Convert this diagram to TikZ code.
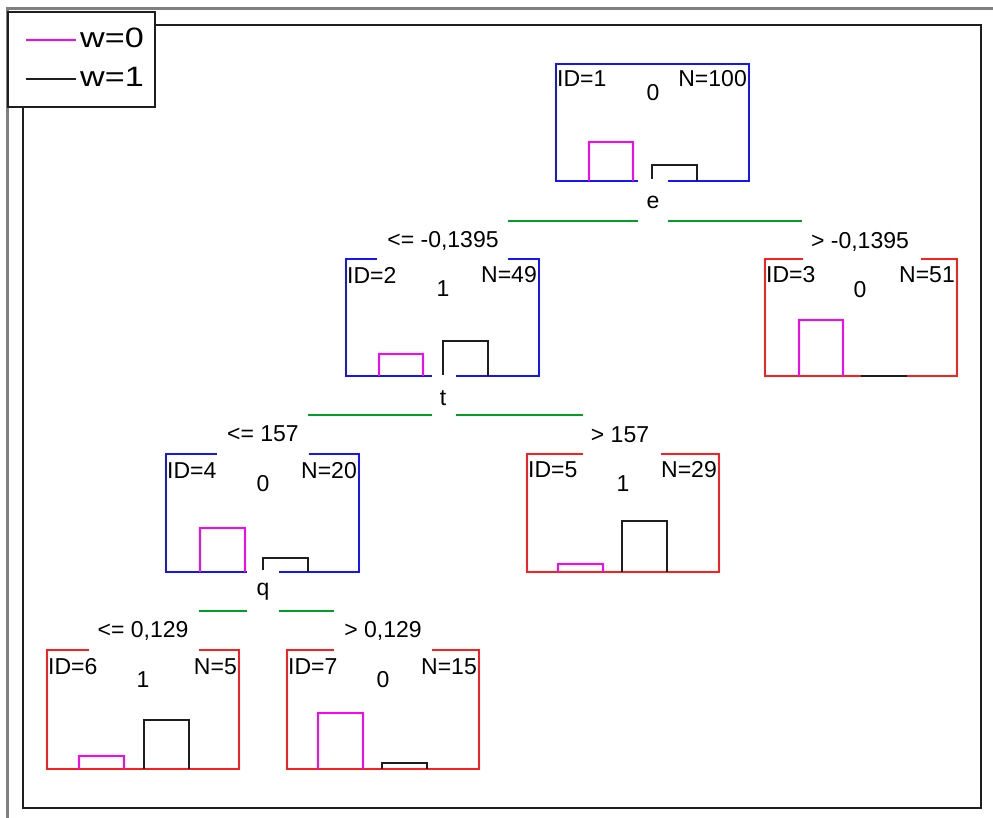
\documentclass[tikz,border=0pt]{standalone}
\usepackage{fontspec}
\usepackage{graphicx}
\setmainfont{Liberation Sans}
\definecolor{nblue}{RGB}{20,20,255}
\definecolor{nred}{RGB}{255,30,30}
\definecolor{nmag}{RGB}{255,0,255}
\definecolor{ngreen}{RGB}{0,160,40}
\definecolor{nblack}{RGB}{30,30,30}
\definecolor{ngray}{RGB}{128,128,128}
\tikzset{
  boxb/.style={draw=nblue, line width=2pt},
  boxr/.style={draw=nred, line width=2pt},
  barm/.style={draw=nmag, line width=1.6pt},
  bark/.style={draw=nblack, line width=1.6pt},
  splitline/.style={draw=ngreen, line width=2pt},
  txt/.style={font=\fontsize{23}{23}\selectfont, inner sep=0pt, text=black},
  legtxt/.style={font=\fontsize{28}{28}\selectfont, inner sep=0pt, text=black, anchor=west},
}
\begin{document}
\begin{tikzpicture}[x=1pt, y=-1pt]
\useasboundingbox (0,0) rectangle (993,818);
\fill[white] (0,0) rectangle (993,818);
% outer frames
\draw[ngray, line width=3pt] (7,818) -- (7,9) -- (993,9);
\draw[nblack, line width=2pt] (155,25) -- (981,25) -- (981,808) -- (23,808) -- (23,107);
% legend
\draw[nblack, line width=2pt] (8,12) rectangle (155,107);
\coordinate (l0a) at (26,40); \coordinate (l0b) at (76,40);
\coordinate (l1a) at (26,79); \coordinate (l1b) at (76,79);
\draw[nmag, line width=1.5pt] (l0a) -- (l0b);
\draw[nblack, line width=1.5pt] (l1a) -- (l1b);
\node[legtxt] (lw0) at (80,38) {\scalebox{1.22}[1]{w=0}};
\node[legtxt] (lw1) at (80,77) {\scalebox{1.22}[1]{w=1}};

% ---------- node 1 ----------
\draw[boxb] (638,181) -- (556,181) -- (556,64) -- (749,64) -- (749,181) -- (668,181);
\draw[barm] (589,181) -- (589,142) -- (633,142) -- (633,181);
\draw[bark] (652,179) -- (652,165) -- (697,165) -- (697,181);
\node[txt, anchor=west] (id1) at (557,79) {ID=1};
\node[txt, anchor=east] (n1) at (747,79) {N=100};
\node[txt] (c1) at (653,93) {0};
\node[txt] (s1) at (653,202) {e};
\draw[splitline] (508,221) -- (638,221);
\draw[splitline] (668,221) -- (802,221);
\node[txt] (e2) at (443,241) {<= -0,1395};
\node[txt] (e3) at (860,242) {> -0,1395};

% ---------- node 2 ----------
\draw[boxb] (377,259) -- (346,259) -- (346,376) -- (432,376);
\draw[boxb] (456,376) -- (539,376) -- (539,259) -- (508,259);
\draw[barm] (379,376) -- (379,354) -- (423,354) -- (423,376);
\draw[bark] (443,375) -- (443,341) -- (488,341) -- (488,376);
\node[txt, anchor=west] (id2) at (347,275) {ID=2};
\node[txt, anchor=east] (n2) at (537,275) {N=49};
\node[txt] (c2) at (443,289) {1};
\node[txt] (s2) at (443,398) {t};
\draw[splitline] (308,415) -- (432,415);
\draw[splitline] (456,415) -- (583,415);
\node[txt] (e4) at (263,434) {<= 157};
\node[txt] (e5) at (620,435) {> 157};

% ---------- node 3 ----------
\draw[boxr] (803,259) -- (765,259) -- (765,376) -- (957,376) -- (957,259) -- (921,259);
\draw[barm] (799,376) -- (799,320) -- (843,320) -- (843,376);
\draw[bark] (861,376) -- (907,376);
\node[txt, anchor=west] (id3) at (766,275) {ID=3};
\node[txt, anchor=east] (n3) at (955,275) {N=51};
\node[txt] (c3) at (860,290) {0};

% ---------- node 4 ----------
\draw[boxb] (217,454) -- (166,454) -- (166,572) -- (247,572);
\draw[boxb] (279,572) -- (359,572) -- (359,454) -- (309,454);
\draw[barm] (200,572) -- (200,528) -- (245,528) -- (245,572);
\draw[bark] (263,570) -- (263,558) -- (308,558) -- (308,572);
\node[txt, anchor=west] (id4) at (167,471) {ID=4};
\node[txt, anchor=east] (n4) at (357,471) {N=20};
\node[txt] (c4) at (263,484) {0};
\node[txt] (s4) at (263,592) {q};
\draw[splitline] (199,611) -- (247,611);
\draw[splitline] (279,611) -- (334,611);
\node[txt] (e6) at (143,631) {<= 0,129};
\node[txt] (e7) at (383,631) {> 0,129};

% ---------- node 5 ----------
\draw[boxr] (583,454) -- (527,454) -- (527,572) -- (719,572) -- (719,454) -- (661,454);
\draw[barm] (558,572) -- (558,564) -- (603,564) -- (603,572);
\draw[bark] (622,572) -- (622,521) -- (667,521) -- (667,572);
\node[txt, anchor=west] (id5) at (528,470) {ID=5};
\node[txt, anchor=east] (n5) at (717,470) {N=29};
\node[txt] (c5) at (623,484) {1};

% ---------- node 6 ----------
\draw[boxr] (89,650) -- (47,650) -- (47,769) -- (239,769) -- (239,650) -- (199,650);
\draw[barm] (79,769) -- (79,756) -- (124,756) -- (124,769);
\draw[bark] (144,769) -- (144,720) -- (189,720) -- (189,769);
\node[txt, anchor=west] (id6) at (48,667) {ID=6};
\node[txt, anchor=east] (n6) at (237,667) {N=5};
\node[txt] (c6) at (143,680) {1};

% ---------- node 7 ----------
\draw[boxr] (334,650) -- (287,650) -- (287,769) -- (479,769) -- (479,650) -- (432,650);
\draw[barm] (318,769) -- (318,713) -- (363,713) -- (363,769);
\draw[bark] (382,769) -- (382,763) -- (427,763) -- (427,769);
\node[txt, anchor=west] (id7) at (288,667) {ID=7};
\node[txt, anchor=east] (n7) at (477,667) {N=15};
\node[txt] (c7) at (383,680) {0};
\end{tikzpicture}
\end{document}
